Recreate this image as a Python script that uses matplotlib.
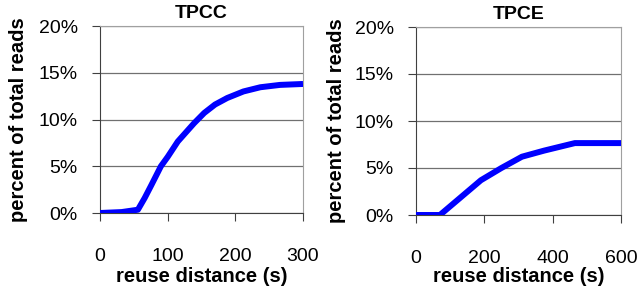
import matplotlib.pyplot as plt
from matplotlib.ticker import FuncFormatter

# TPCC
tpcc_x = [0, 32, 56, 66, 76, 90, 100, 115, 139, 154, 170, 188, 212, 237, 266, 300]
tpcc_y = [0, 0.1, 0.35, 1.6, 3.0, 5.0, 6.0, 7.65, 9.6, 10.7, 11.6, 12.3, 13.0, 13.45, 13.7, 13.8]

# TPCE
tpce_x = [0, 70, 190, 250, 310, 375, 465, 600]
tpce_y = [0, 0, 3.7, 5.0, 6.2, 6.85, 7.65, 7.65]

plt.rcParams['font.family'] = ['Liberation Sans', 'DejaVu Sans']

fig = plt.figure(figsize=(6.39, 2.93), dpi=100)
W, H = 639, 293

def make_ax(l, r, t, b, x, y, title, xmax, xstep, ylab_x):
    ax = fig.add_axes([l / W, 1 - b / H, (r - l) / W, (b - t) / H])
    ax.plot(x, y, color='#0000ff', lw=4.3, solid_capstyle='butt', solid_joinstyle='round', zorder=3)
    ax.set_xlim(0, xmax)
    ax.set_ylim(0, 20)
    ax.set_xticks(range(0, xmax + 1, xstep))
    ax.set_yticks([0, 5, 10, 15, 20])
    ax.yaxis.set_major_formatter(FuncFormatter(lambda v, p: '%d%%' % v))
    ax.grid(axis='y', color='#707070', lw=0.9)
    ax.set_axisbelow(True)
    for s in ['top', 'right']:
        ax.spines[s].set_color('#a0a0a0')
    for s in ['left', 'bottom']:
        ax.spines[s].set_color('#404040')
    ax.tick_params(axis='both', labelsize=14, length=6, color='#404040')
    ax.tick_params(axis='y', pad=10)
    ax.tick_params(axis='x', pad=19)
    ax.set_title(title, fontsize=14, fontweight='bold', pad=6)
    ax.set_xlabel('reuse distance (s)', fontsize=14.5, fontweight='bold', va='center')
    ax.xaxis.set_label_coords(0.5, (b - 276) / (b - t))
    ax.set_ylabel('percent of total reads', fontsize=14.5, fontweight='bold', va='center')
    ax.yaxis.set_label_coords((ylab_x - l) / (r - l), 0.5)
    return ax

make_ax(100, 303, 26, 213, tpcc_x, tpcc_y, 'TPCC', 300, 100, 19)
make_ax(416, 621, 27, 215, tpce_x, tpce_y, 'TPCE', 600, 200, 337)

fig.savefig('out.png', dpi=100)
